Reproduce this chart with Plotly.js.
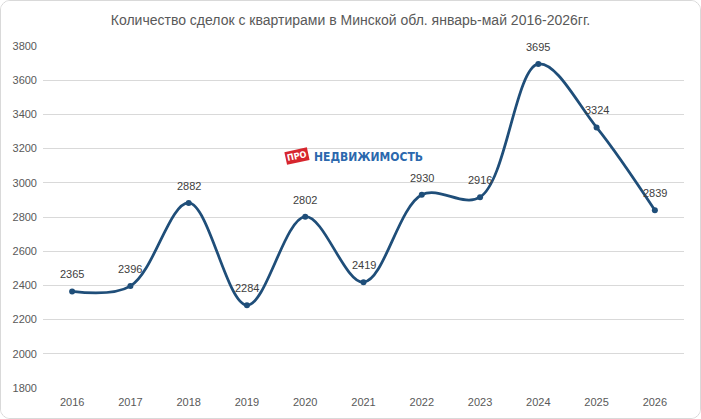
<!DOCTYPE html>
<html><head><meta charset="utf-8">
<script src="https://cdn.plot.ly/plotly-3.0.1.min.js"></script>
<style>
html,body{margin:0;padding:0;background:#fff;}
#frame{position:absolute;left:0;top:0;width:701px;height:419px;box-sizing:border-box;border:1px solid #d9d9d9;border-radius:10px;overflow:hidden;}
#chart{position:absolute;left:-1px;top:-1px;width:701px;height:419px;}
</style></head>
<body>
<div id="frame"><div id="chart"></div></div>
<script>
const years = ['2016','2017','2018','2019','2020','2021','2022','2023','2024','2025','2026'];
const deals = [2365, 2396, 2882, 2284, 2802, 2419, 2930, 2916, 3695, 3324, 2839];
const yTicks = [1800, 2000, 2200, 2400, 2600, 2800, 3000, 3200, 3400, 3600, 3800];
const titleText = 'Количество сделок с квартирами в Минской обл. январь-май 2016-2026гг.';

const trace = {
  x: years, y: deals, type: 'scatter', mode: 'lines+markers',
  line: {shape: 'spline', smoothing: 1, color: '#1f4e79', width: 2.75},
  marker: {size: 6, color: '#1f4e79'},
  cliponaxis: false, hoverinfo: 'none'
};

// category axis: annotations placed by category index
const labelAnnotations = years.map((yr, i) => ({
  x: i, y: deals[i], xref: 'x', yref: 'y', text: String(deals[i]), showarrow: false,
  yshift: 17, font: {family: 'Liberation Sans, Arial, sans-serif', size: 11, color: '#404040'}
}));

const layout = {
  width: 701, height: 419,
  margin: {l: 43, r: 17, t: 46, b: 31},
  paper_bgcolor: '#fff', plot_bgcolor: '#fff',
  showlegend: false,
  title: {text: titleText, x: 0.5, xanchor: 'center', y: 0.952, yanchor: 'middle',
    font: {family: 'Liberation Sans, Arial, sans-serif', size: 14, color: '#595959'}},
  font: {family: 'Liberation Sans, Arial, sans-serif', size: 11, color: '#595959'},
  xaxis: {type: 'category', range: [-0.5, 10.5], showgrid: false, zeroline: false, showline: false, ticks: '',
    ticklabelstandoff: 6, tickfont: {size: 11, color: '#595959'}, fixedrange: true},
  yaxis: {range: [1800, 3800], tickvals: yTicks, ticktext: yTicks.map(String),
    showgrid: true, gridcolor: '#d9d9d9', gridwidth: 1, zeroline: false, showline: false,
    ticks: '', ticklabelstandoff: 5, tickfont: {size: 11, color: '#595959'}, fixedrange: true},
  annotations: labelAnnotations.concat([
    {xref: 'paper', yref: 'paper', x: 0.397, y: 0.705, text: '<b>ПРО</b>', showarrow: false,
     bgcolor: '#d7262e', font: {family: 'DejaVu Sans Condensed, Arial, sans-serif', size: 9, color: '#fff'},
     textangle: -12, borderpad: 1},
    {xref: 'paper', yref: 'paper', x: 0.419, y: 0.703, xanchor: 'left', text: '<b>НЕДВИЖИМОСТЬ</b>', showarrow: false,
     font: {family: 'DejaVu Sans Condensed, Arial, sans-serif', size: 12, color: '#2b68ad'}}
  ])
};

Plotly.newPlot('chart', [trace], layout, {displayModeBar: false, staticPlot: true});
</script>
</body></html>
